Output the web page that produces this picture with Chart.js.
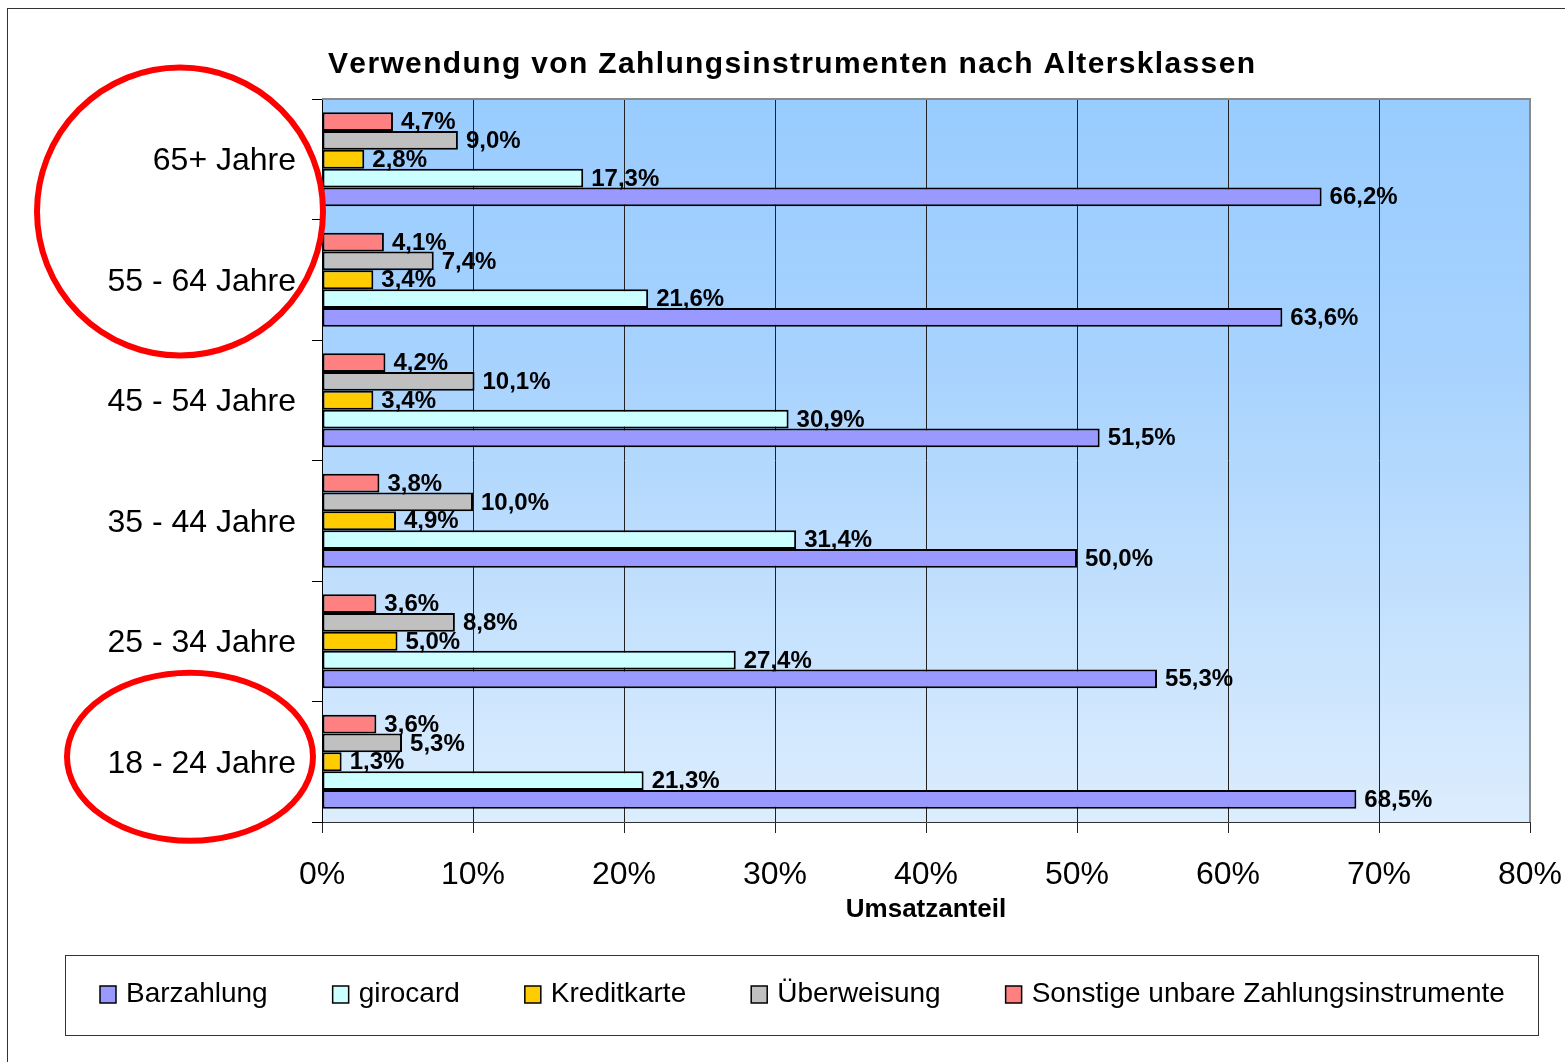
<!DOCTYPE html>
<html>
<head>
<meta charset="utf-8">
<title>Verwendung von Zahlungsinstrumenten nach Altersklassen</title>
<script src="https://cdn.jsdelivr.net/npm/chart.js@4.4.0/dist/chart.umd.min.js"></script>
<style>
  body { margin: 0; background: #fff; }
</style>
</head>
<body>
<canvas id="zahlChart" width="1565" height="1062"></canvas>

<script>
  // data (values in %)
  const altersklassen = ['65+ Jahre', '55 - 64 Jahre', '45 - 54 Jahre', '35 - 44 Jahre', '25 - 34 Jahre', '18 - 24 Jahre']
  const barzahlung = [66.2, 63.6, 51.5, 50.0, 55.3, 68.5]
  const girocard = [17.3, 21.6, 30.9, 31.4, 27.4, 21.3]
  const kreditkarte = [2.8, 3.4, 3.4, 4.9, 5.0, 1.3]
  const ueberweisung = [9.0, 7.4, 10.1, 10.0, 8.8, 5.3]
  const sonstige = [4.7, 4.1, 4.2, 3.8, 3.6, 3.6]
  const xTicks = [0, 10, 20, 30, 40, 50, 60, 70, 80]

  const titel = 'Verwendung von Zahlungsinstrumenten nach Altersklassen'
  const achsenTitel = 'Umsatzanteil'
  const FONT = 'Arial, "Liberation Sans", sans-serif'

  // top-to-bottom order inside each group: Sonstige ... Barzahlung
  const datasets = [
    { label: 'Sonstige unbare Zahlungsinstrumente', data: sonstige, backgroundColor: '#FF8080' },
    { label: 'Überweisung', data: ueberweisung, backgroundColor: '#C0C0C0' },
    { label: 'Kreditkarte', data: kreditkarte, backgroundColor: '#FFCC00' },
    { label: 'girocard', data: girocard, backgroundColor: '#CCFFFF' },
    { label: 'Barzahlung', data: barzahlung, backgroundColor: '#9999FF' }
  ].map(d => Object.assign(d, { borderColor: '#000', borderWidth: 2, borderSkipped: false }))

  function fmt(v) {
    return v.toFixed(1).replace('.', ',') + '%'
  }

  const hintergrund = {
    id: 'hintergrund',
    beforeDraw(chart) {
      const ctx = chart.ctx
      const a = chart.chartArea
      ctx.save()
      ctx.fillStyle = '#fff'
      ctx.fillRect(0, 0, chart.width, chart.height)
      // outer frame
      ctx.strokeStyle = '#333'
      ctx.lineWidth = 1
      ctx.strokeRect(7.5, 8.5, 1700, 1200)
      // plot area gradient
      const g = ctx.createLinearGradient(0, a.top, 0, a.bottom)
      g.addColorStop(0, '#99CCFF')
      g.addColorStop(0.35, '#A6D2FE')
      g.addColorStop(1, '#DCEDFD')
      ctx.fillStyle = g
      ctx.fillRect(a.left, a.top, a.right - a.left, a.bottom - a.top)
      ctx.restore()
    }
  }

  const beschriftung = {
    id: 'beschriftung',
    afterDatasetsDraw(chart) {
      const ctx = chart.ctx
      const a = chart.chartArea
      ctx.save()
      // gray frame top/right of plot
      ctx.strokeStyle = '#8a8a8a'
      ctx.lineWidth = 2
      ctx.beginPath()
      ctx.moveTo(a.left, a.top)
      ctx.lineTo(a.right, a.top)
      ctx.lineTo(a.right, a.bottom)
      ctx.stroke()

      ctx.font = 'bold 24px ' + FONT
      ctx.fillStyle = '#000'
      ctx.textAlign = 'left'
      ctx.textBaseline = 'middle'
      chart.data.datasets.forEach((ds, i) => {
        chart.getDatasetMeta(i).data.forEach((bar, j) => {
          ctx.fillText(fmt(ds.data[j]), bar.x + 8, bar.y + 1)
        })
      })
      ctx.restore()
    },
    afterDraw(chart) {
      const ctx = chart.ctx
      const y = chart.scales.y
      ctx.save()

      // title, letter spaced
      ctx.font = 'bold 30px ' + FONT
      ctx.fillStyle = '#000'
      ctx.textBaseline = 'middle'
      ctx.textAlign = 'left'
      const chars = titel.split('')
      const w = chars.reduce((s, c) => s + ctx.measureText(c).width, 0)
      const sp = (927 - w) / (chars.length - 1)
      let tx = 328
      chars.forEach(c => {
        ctx.fillText(c, tx, 65)
        tx += ctx.measureText(c).width + sp
      })

      // legend
      ctx.strokeStyle = '#333'
      ctx.lineWidth = 1
      ctx.strokeRect(65.5, 955.5, 1473, 80)
      ctx.font = '28px ' + FONT
      ctx.textBaseline = 'middle'
      let lx = 100
      chart.data.datasets.slice().reverse().forEach(ds => {
        ctx.fillStyle = ds.backgroundColor
        ctx.fillRect(lx, 986, 16, 17)
        ctx.strokeStyle = '#000'
        ctx.lineWidth = 1.5
        ctx.strokeRect(lx, 986, 16, 17)
        ctx.fillStyle = '#000'
        ctx.fillText(ds.label, lx + 26, 994)
        lx += 26 + ctx.measureText(ds.label).width + 65
      })

      // red circles
      ctx.strokeStyle = '#FF0000'
      ctx.lineWidth = 6
      const c1 = (y.getPixelForValue(0) + y.getPixelForValue(1)) / 2 - 8
      ctx.beginPath()
      ctx.ellipse(180, c1, 143, 144, 0, 0, Math.PI * 2)
      ctx.stroke()
      const c2 = y.getPixelForValue(5) - 5
      ctx.beginPath()
      ctx.ellipse(190, c2, 123, 84, 0, 0, Math.PI * 2)
      ctx.stroke()
      ctx.restore()
    }
  }

  new Chart(document.getElementById('zahlChart'), {
    type: 'bar',
    data: { labels: altersklassen, datasets: datasets },
    options: {
      indexAxis: 'y',
      responsive: false,
      animation: false,
      layout: { padding: { top: 99, right: 35, bottom: 137, left: 0 } },
      datasets: { bar: { barPercentage: 1, categoryPercentage: 0.78 } },
      plugins: {
        legend: { display: false },
        title: { display: false },
        tooltip: { enabled: false }
      },
      scales: {
        x: {
          min: 0,
          max: 80,
          afterBuildTicks: s => { s.ticks = xTicks.map(v => ({ value: v })) },
          afterFit: s => {
            s.height = 103
            s.paddingLeft = 0
            s.paddingRight = 0
          },
          grid: { color: '#222', lineWidth: 1, tickLength: 11 },
          border: { color: '#333', width: 1 },
          ticks: {
            callback: v => v + '%',
            font: { family: FONT, size: 32 },
            color: '#000',
            padding: 23,
            maxRotation: 0
          },
          title: {
            display: true,
            text: achsenTitel,
            font: { family: FONT, size: 26, weight: 'bold' },
            color: '#000',
            padding: { top: 0, bottom: 0 }
          }
        },
        y: {
          afterFit: s => { s.width = 322 },
          grid: { drawOnChartArea: false, color: '#000', tickLength: 10, offset: true },
          border: { color: '#000', width: 1 },
          ticks: {
            font: { family: FONT, size: 32 },
            color: '#000',
            padding: 16,
            labelOffset: 2
          }
        }
      }
    },
    plugins: [hintergrund, beschriftung]
  })
</script>
</body>
</html>
